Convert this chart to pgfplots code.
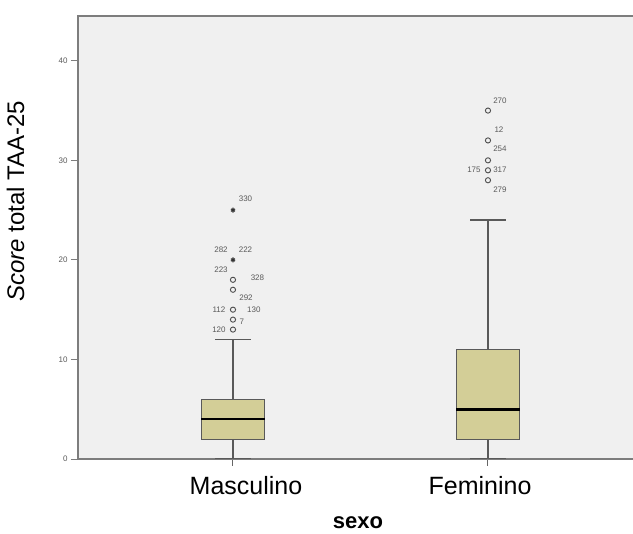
\documentclass[border=0pt]{standalone}
\usepackage{pgfplots}
\pgfplotsset{compat=1.18}
\usepgfplotslibrary{statistics}
\usepackage{fontspec}
\setmainfont{Liberation Sans}
\definecolor{boxfill}{RGB}{211,206,151}
\definecolor{bg}{RGB}{240,240,240}
\definecolor{frame}{RGB}{125,125,125}
\definecolor{lbl}{RGB}{90,90,90}
\begin{document}
\begin{tikzpicture}
\begin{axis}[
  at={(0,0)}, anchor=south west,
  scale only axis, width=560pt, height=443pt,
  xmin=0.3922, xmax=2.5883, ymin=0, ymax=44.5,
  axis background/.style={fill=bg},
  axis line style={draw=frame, line width=1.3pt},
  xtick={1,2}, xticklabels={,},
  extra x ticks={1.051,1.969},
  extra x tick labels={Masculino,Feminino},
  extra x tick style={major tick length=0pt, xticklabel style={font=\fontsize{25}{25}\selectfont, anchor=base, yshift=-36pt}},
  ytick={0,10,20,30,40},
  xtick pos=bottom, ytick pos=left,
  tick align=outside,
  major tick length=7pt,
  x tick style={draw=black!60, line width=1pt},
  y tick style={draw=frame, line width=0.9pt},
  /pgf/number format/assume math mode=true,
  yticklabel style={font=\fontsize{8}{8}\selectfont, text=lbl},
  xlabel={\textbf{sexo}},
  xlabel style={at={(axis description cs:0.5,0)}, anchor=base, yshift=-70pt, font=\fontsize{22}{22}\selectfont},
  ylabel={\textit{Score} total TAA-25},
  ylabel style={at={(axis description cs:-0.0964,0.582)}, anchor=base, rotate=0, font=\fontsize{24}{24}\selectfont},
  boxplot/draw direction=y,
  boxplot/every median/.style={draw=black, line width=2.6pt},
  boxplot/every box/.style={fill=boxfill, draw=black!65, line width=1.1pt},
  boxplot/every whisker/.style={draw=black!65, line width=1.2pt},
]
\addplot[boxplot prepared={draw position=1, lower whisker=0, lower quartile=2, median=4, upper quartile=6, upper whisker=12, box extend=0.25, whisker extend=0.14}, mark=none] coordinates {};
\addplot[boxplot prepared={draw position=2, lower whisker=0, lower quartile=2, median=5, upper quartile=11, upper whisker=24, box extend=0.25, whisker extend=0.14}, mark=none] coordinates {};
% outliers (circles)
\addplot[only marks, mark=o, mark size=2.6pt, draw=black!70, line width=0.9pt] coordinates {
 (1,13) (1,14) (1,15) (1,17) (1,18)
 (2,28) (2,29) (2,30) (2,32) (2,35)};
% extreme values (stars)
\addplot[only marks, mark=asterisk, mark size=2.4pt, draw=black!80, line width=1.1pt] coordinates {(1,20) (1,25)};
% case labels
\begin{scope}[every node/.style={font=\fontsize{8}{8}\selectfont, text=lbl, inner sep=0pt}]
\node at (axis cs:1.049,26.19) {330};
\node at (axis cs:0.953,21.06) {282};
\node at (axis cs:1.049,21.06) {222};
\node at (axis cs:0.953,18.99) {223};
\node at (axis cs:1.096,18.25) {328};
\node at (axis cs:1.051,16.24) {292};
\node at (axis cs:0.945,15.04) {112};
\node at (axis cs:1.082,14.97) {130};
\node at (axis cs:1.035,13.79) {7};
\node at (axis cs:0.945,13.03) {120};
\node at (axis cs:2.047,35.99) {270};
\node at (axis cs:2.043,33.05) {12};
\node at (axis cs:2.047,31.21) {254};
\node at (axis cs:1.945,29.03) {175};
\node at (axis cs:2.047,29.03) {317};
\node at (axis cs:2.047,27.09) {279};
\end{scope}
\end{axis}
\pgfresetboundingbox
\path[use as bounding box] (-78pt,-75pt) rectangle (555pt,459pt);
\end{tikzpicture}
\end{document}
